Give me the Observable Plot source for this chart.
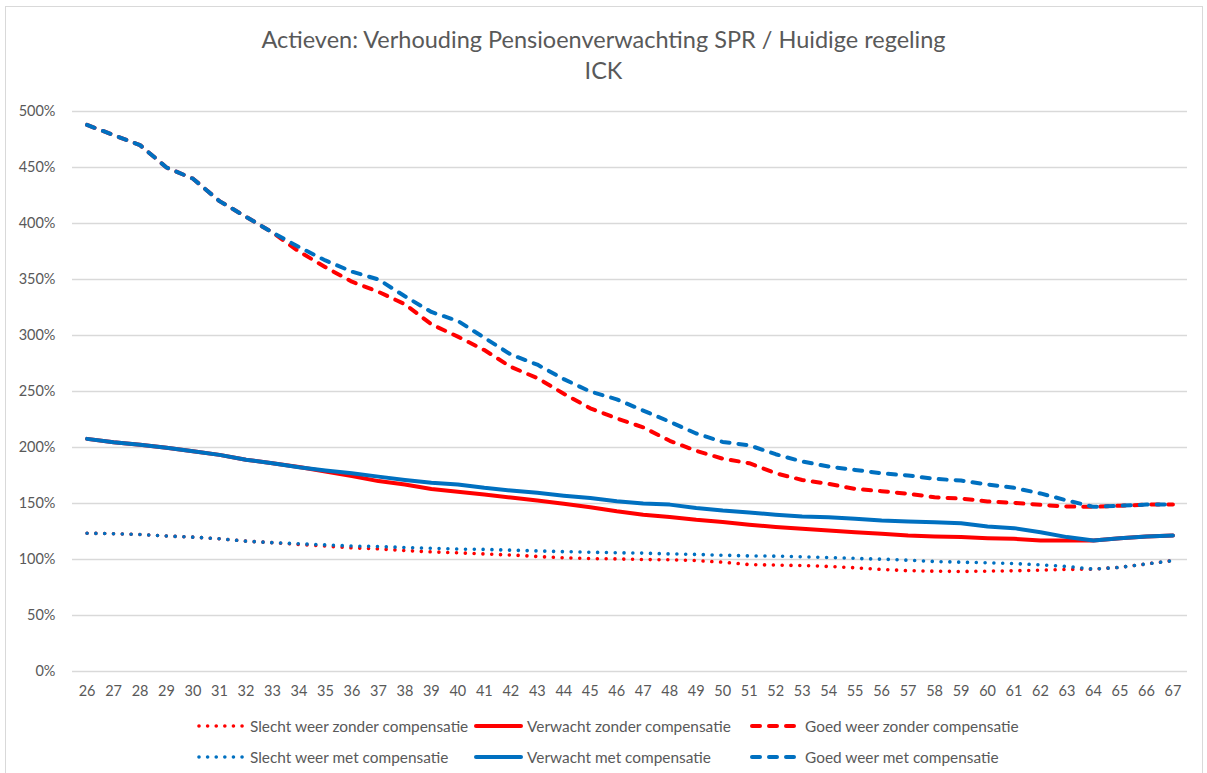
<!DOCTYPE html>
<html><head><meta charset="utf-8">
<script src="https://cdn.jsdelivr.net/npm/d3@7"></script>
<script src="https://cdn.jsdelivr.net/npm/@observablehq/plot@0.6"></script>
<style>
body{margin:0;background:#fff;font-family:Lato,"Open Sans",sans-serif;}
#wrap{position:relative;width:1207px;height:773px;overflow:hidden;background:#fff;}
#border{position:absolute;left:5px;top:6px;width:1196px;height:800px;border:1px solid #d9d9d9;}
#title{position:absolute;left:0;top:24px;width:1207px;text-align:center;color:#595959;font-size:23.5px;line-height:31px;}
#chart{position:absolute;left:0;top:95px;}
.leg{position:absolute;display:flex;align-items:center;color:#595959;font-size:15.4px;white-space:nowrap;height:20px;}
</style>
</head><body>
<div id="wrap">
<div id="border"></div>
<div id="title">Actieven: Verhouding Pensioenverwachting SPR / Huidige regeling<br>ICK</div>
<div id="chart"></div>
<div id="legend"></div>
</div>
<script>
const ages = [26,27,28,29,30,31,32,33,34,35,36,37,38,39,40,41,42,43,44,45,46,47,48,49,50,51,52,53,54,55,56,57,58,59,60,61,62,63,64,65,66,67];
const yTicks = [0,50,100,150,200,250,300,350,400,450,500];

const slechtZonder = [123.5,123,122.3,121,120,118.5,116.4,115,113.5,112,110.4,109.5,108,106.8,106,105,104,102.7,101.5,100.8,100.5,100,99.7,99,97.6,95.5,95,94.6,93.8,92.6,91.1,90,89.6,89.3,89.6,89.9,90.5,91.1,91.4,93,96,99];
const verwachtZonder = [207.7,204.7,202.4,199.7,196.7,193.4,189,186,182.5,178.5,174.5,170,167,163,160.5,158,155.3,152.7,149.7,146.7,143,140,138,135.4,133.4,131,129,127.4,126,124.4,122.9,121.4,120.5,120,119,118.5,117,117,117,119,120.5,121.4];
const goedZonder = [488,479,470,450,440,420,406,392,375,361,348,339,328,310,299,287,272,262,248,235,226,218,206,197,190,186,177,171,167.5,163,161,158.7,155.6,154.4,151.8,150.6,148.8,147.3,147,148,149,149];
const slechtMet = [123.5,123,122.3,121,120,118.5,116.4,115,114,113,112,111.6,110.7,110,109.3,109,108.3,107.7,107,106.5,106,105.7,105,104.5,103.8,103.2,103,102.4,101.8,101,100.3,99.4,98.2,97.6,97,96.4,95.2,93.8,91.4,93,96,99];
const verwachtMet = [207.7,204.7,202.4,199.7,196.7,193.4,189,186,182.4,179.5,177,174,171,168.5,167,164,161.6,159.5,157,155,152,150,149,146,143.7,142,140,138.4,137.8,136.3,134.8,134,133.3,132.4,129.5,128,124.4,120,117,119,120.5,121.4];
const goedMet = [488,479,470,450,440,420,406,392,379,367,357,350,335,321,313,298,283,274,261,250,243,233,223,212.5,205,202,194,187.5,183,180,177,175,172,170.5,167,164,159,152.7,147,148,149,149];

const seriesNames = ["Slecht weer zonder compensatie","Verwacht zonder compensatie","Goed weer zonder compensatie","Slecht weer met compensatie","Verwacht met compensatie","Goed weer met compensatie"];
const seriesValues = [slechtZonder, verwachtZonder, goedZonder, slechtMet, verwachtMet, goedMet];

const RED = "#ff0000", BLUE = "#0070c0";
const styles = [
  {stroke: RED, dash: "0.01 8.8", width: 3.6},
  {stroke: RED, dash: null, width: 4},
  {stroke: RED, dash: "8 9", width: 4},
  {stroke: BLUE, dash: "0.01 8.8", width: 3.6},
  {stroke: BLUE, dash: null, width: 4},
  {stroke: BLUE, dash: "8 9", width: 4}
];

const lineMarks = seriesValues.map((vals, i) => {
  const data = ages.map((a, j) => ({age: a, value: vals[j]}));
  const opt = {x: "age", y: "value", stroke: styles[i].stroke, strokeWidth: styles[i].width, strokeLinecap: "round", strokeLinejoin: "round"};
  if (styles[i].dash) opt.strokeDasharray = styles[i].dash;
  return Plot.line(data, opt);
});

const chart = Plot.plot({
  width: 1207,
  height: 620,
  marginTop: 16,
  marginBottom: 44,
  marginLeft: 72,
  marginRight: 20,
  style: {fontFamily: "Lato, 'Open Sans', sans-serif", fontSize: "14.5px", color: "#595959", background: "transparent"},
  x: {type: "point", domain: ages, padding: 0.55, round: false, label: null, tickSize: 0, tickPadding: 14},
  y: {domain: [0, 500], ticks: yTicks, tickFormat: d => d + "%", label: null, tickSize: 0, tickPadding: 17},
  marks: [
    Plot.ruleY(yTicks, {stroke: "#d9d9d9", strokeWidth: 1.3}),
    ...lineMarks
  ]
});
document.getElementById("chart").appendChild(chart);

// Legend
const legend = document.getElementById("legend");
const cols = [{sx: 197, tx: 250}, {sx: 474, tx: 527}, {sx: 750, tx: 805}];
const rows = [725.5, 756.5];
seriesNames.forEach((name, i) => {
  const r = Math.floor(i / 3), c = i % 3;
  const st = styles[i];
  const w = cols[c].tx - cols[c].sx - 4;
  const div = document.createElement("div");
  div.className = "leg";
  div.style.left = cols[c].sx + "px";
  div.style.top = (rows[r] - 10) + "px";
  const svg = d3.create("svg").attr("width", w).attr("height", 20);
  let dash = st.dash;
  if (dash === "0.01 8.8") { dash = "0.01 8.6"; }
  svg.append("line").attr("x1", 2).attr("x2", w - 2).attr("y1", 10).attr("y2", 10)
    .attr("stroke", st.stroke).attr("stroke-width", st.width).attr("stroke-linecap", "round")
    .attr("stroke-dasharray", dash);
  svg.node().style.marginRight = (cols[c].tx - cols[c].sx - w) + "px";
  div.appendChild(svg.node());
  const span = document.createElement("span");
  span.textContent = name;
  div.appendChild(span);
  legend.appendChild(div);
});
</script>
</body></html>
